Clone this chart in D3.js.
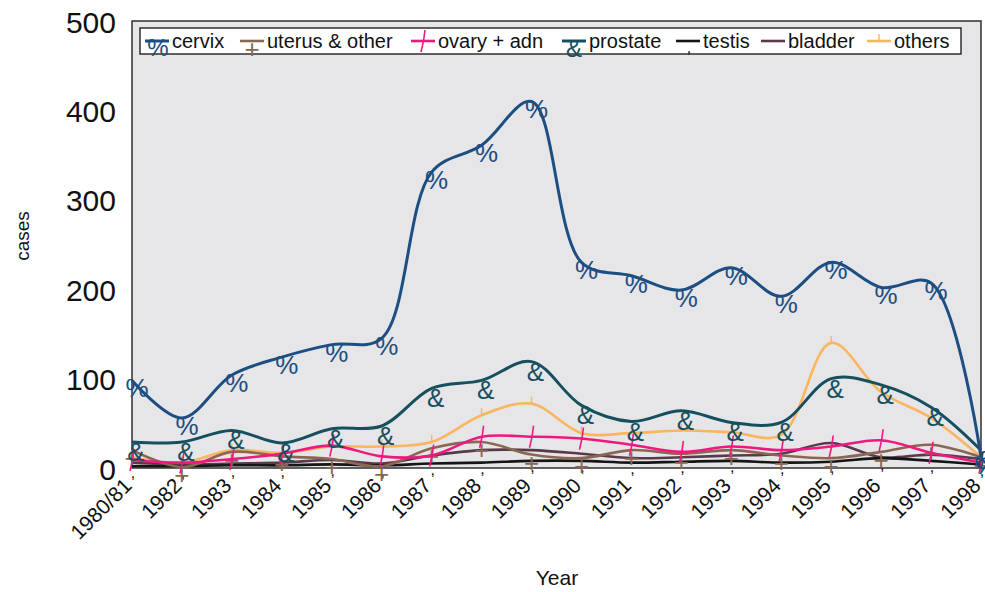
<!DOCTYPE html>
<html>
<head>
<meta charset="utf-8">
<script src="https://cdn.jsdelivr.net/npm/d3@7"></script>
<style>
  html, body { margin: 0; padding: 0; background: #fff; }
  svg { display: block; font-family: "Liberation Sans", Arial, sans-serif; }
</style>
</head>
<body>
<svg id="chart" width="985" height="592"></svg>
<script>
// Registered cases per year, by site
const years = ["1980/81","1982","1983","1984","1985","1986","1987","1988","1989",
               "1990","1991","1992","1993","1994","1995","1996","1997","1998"];
const cervix   = [98, 56, 104, 124, 138, 145, 331, 361, 410, 230, 215, 199, 224, 192, 230, 202, 207, 12];
const uterus   = [20, 1, 18, 13, 10, 2, 22, 29, 15, 11, 20, 16, 20, 14, 11, 18, 26, 12];
const ovary    = [9, 6, 10, 16, 25, 13, 14, 35, 35, 33, 26, 18, 24, 20, 24, 31, 17, 6];
const prostate = [29, 29, 42, 28, 44, 47, 89, 98, 119, 70, 52, 64, 51, 51, 100, 93, 68, 20];
const testis   = [2, 2, 3, 3, 4, 3, 5, 6, 8, 8, 6, 7, 8, 6, 7, 11, 8, 4];
const bladder  = [6, 4, 5, 6, 9, 5, 14, 20, 20, 16, 11, 12, 14, 16, 28, 12, 15, 10];
const others   = [12, 6, 20, 17, 24, 24, 29, 59, 72, 39, 39, 42, 40, 37, 140, 85, 56, 12];
const yTicks   = [0, 100, 200, 300, 400, 500];

const series = [
  { name: "cervix",         values: cervix,   color: "#1d4e82", width: 3,   marker: "pct" },
  { name: "uterus & other", values: uterus,   color: "#8a6752", width: 2.6, marker: "plus" },
  { name: "ovary + adn",    values: ovary,    color: "#f0177f", width: 2.6, marker: "stroke" },
  { name: "prostate",       values: prostate, color: "#16505e", width: 3,   marker: "amp" },
  { name: "testis",         values: testis,   color: "#151515", width: 2.6, marker: "comma" },
  { name: "bladder",        values: bladder,  color: "#5a394b", width: 2.6, marker: "none" },
  { name: "others",         values: others,   color: "#fbb55e", width: 2.6, marker: "tick" }
];

const svg = d3.select("#chart");
const plotL = 132, plotR = 981, plotT = 21, plotB = 468;

const x = d3.scalePoint().domain(years).range([plotL, plotR]);
const y = d3.scaleLinear().domain([0, 500]).range([plotB, plotT]);

// plot area
svg.append("rect")
  .attr("x", plotL).attr("y", plotT)
  .attr("width", plotR - plotL).attr("height", plotB - plotT)
  .attr("fill", "#e6e6e8").attr("stroke", "#222").attr("stroke-width", 1.4);

// y axis labels
svg.append("g").selectAll("text").data(yTicks).join("text")
  .attr("x", 116).attr("y", d => y(d) + 1)
  .attr("text-anchor", "end").attr("dominant-baseline", "central")
  .attr("font-size", 30).attr("fill", "#111")
  .text(d => d);

// x axis labels
svg.append("g").selectAll("text").data(years).join("text")
  .attr("transform", d => `translate(${x(d) + 1},${plotB + 19}) rotate(-45)`)
  .attr("text-anchor", "end")
  .attr("font-size", 21).attr("fill", "#111")
  .text(d => d);

// axis titles
svg.append("text")
  .attr("transform", "translate(22,236) rotate(-90)")
  .attr("text-anchor", "middle").attr("dominant-baseline", "central")
  .attr("font-size", 19).attr("fill", "#111").text("cases");
svg.append("text")
  .attr("x", 557).attr("y", 585)
  .attr("text-anchor", "middle")
  .attr("font-size", 21).attr("fill", "#111").text("Year");

const line = d3.line()
  .x((d, i) => x(years[i]))
  .y(d => y(d))
  .curve(d3.curveCatmullRom.alpha(0.5));

// marker drawing for a given point
function drawMarker(g, kind, color, px, py) {
  if (kind === "pct") {
    g.append("text").attr("x", px + 5).attr("y", py + 8)
      .attr("text-anchor", "middle").attr("dominant-baseline", "central")
      .attr("font-size", 26).attr("fill", color).text("%");
  } else if (kind === "amp") {
    g.append("text").attr("x", px + 4).attr("y", py + 10)
      .attr("text-anchor", "middle").attr("dominant-baseline", "central")
      .attr("font-size", 26).attr("fill", color).text("&");
  } else if (kind === "plus") {
    g.append("text").attr("x", px).attr("y", py + 8)
      .attr("text-anchor", "middle").attr("dominant-baseline", "central")
      .attr("font-size", 26).attr("fill", color).text("+");
  } else if (kind === "stroke") {
    g.append("path")
      .attr("d", `M${px + 2},${py - 11} Q${px + 1},${py} ${px - 2},${py + 11}`)
      .attr("fill", "none").attr("stroke", color).attr("stroke-width", 1.6);
  } else if (kind === "comma") {
    g.append("text").attr("x", px + 1).attr("y", py + 6)
      .attr("text-anchor", "middle").attr("dominant-baseline", "central")
      .attr("font-size", 16).attr("fill", color).text(",");
  } else if (kind === "tick") {
    g.append("line")
      .attr("x1", px).attr("x2", px).attr("y1", py - 7).attr("y2", py)
      .attr("stroke", color).attr("stroke-width", 1.4);
  }
}

// draw series, last legend entries underneath the main series
const drawOrder = ["others", "bladder", "testis", "uterus & other", "ovary + adn", "prostate", "cervix"];
drawOrder.forEach(nm => {
  const s = series.find(d => d.name === nm);
  const g = svg.append("g");
  g.append("path")
    .attr("d", line(s.values))
    .attr("fill", "none").attr("stroke", s.color)
    .attr("stroke-width", s.width).attr("stroke-linejoin", "round");
  s.values.forEach((v, i) => drawMarker(g, s.marker, s.color, x(years[i]), y(v)));
});

// legend
const lg = svg.append("g");
lg.append("rect")
  .attr("x", 140).attr("y", 28).attr("width", 821).attr("height", 26)
  .attr("fill", "#fff").attr("stroke", "#222").attr("stroke-width", 1.4);
const legendX = [145, 240, 411, 562, 676, 761, 867];
series.forEach((s, i) => {
  const lx = legendX[i], ly = 41;
  const g = lg.append("g");
  g.append("line").attr("x1", lx).attr("x2", lx + 24).attr("y1", ly).attr("y2", ly)
    .attr("stroke", s.color).attr("stroke-width", s.width);
  if (s.marker === "pct") {
    g.append("text").attr("x", lx + 13).attr("y", ly + 6).attr("text-anchor", "middle")
      .attr("dominant-baseline", "central").attr("font-size", 24).attr("fill", s.color).text("%");
  } else if (s.marker === "amp") {
    g.append("text").attr("x", lx + 12).attr("y", ly + 7).attr("text-anchor", "middle")
      .attr("dominant-baseline", "central").attr("font-size", 24).attr("fill", s.color).text("&");
  } else {
    drawMarker(g, s.marker, s.color, lx + 12, ly);
  }
  g.append("text").attr("x", lx + 27).attr("y", ly)
    .attr("dominant-baseline", "central")
    .attr("font-size", 20).attr("fill", "#111").text(s.name);
});
</script>
</body>
</html>
